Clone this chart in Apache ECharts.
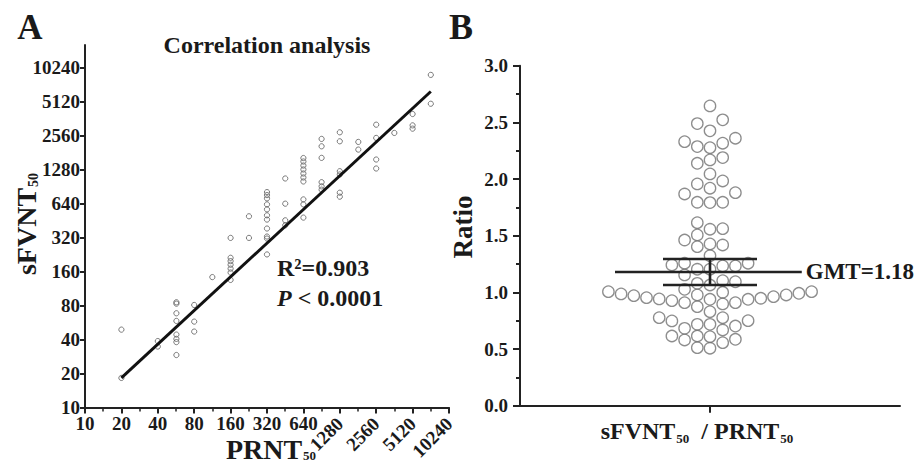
<!DOCTYPE html>
<html><head><meta charset="utf-8">
<script src="https://cdn.jsdelivr.net/npm/echarts@6/dist/echarts.min.js"></script>
<style>html,body{margin:0;padding:0;background:#fff}#c{width:919px;height:463px}</style>
</head><body><div id="c"></div>
<script>
// ---------- Panel A: correlation (titers) ----------
const prnt = [20,20,40,40,
  57,57,57,57,57,57,57,57,
  80,80,80,
  113,
  160,160,160,160,160,160,160,
  227,227,
  320,320,320,320,320,320,320,320,320,320,320,
  453,453,453,453,
  640,640,640,640,640,640,640,640,640,640,
  905,905,905,905,905,905,
  1280,1280,1280,1280,1280,1280,
  1821,1821,
  2560,2560,2560,2560,
  3616,
  5120,5120,5120,
  7240,7240];
const sfvnt = [49,18.3,38.8,34.7,
  85.6,83.2,68.4,58.5,44.3,40.6,38,29.2,
  81,57.7,47.1,
  143,
  212,198,184,170,157,135,318,
  318,494,
  809,761,712,630,569,504,462,385,327,314,227,
  1068,639,455,411,
  1620,1509,1391,1283,1182,1090,1005,697,630,481,
  2393,2058,1626,990,910,850,
  2737,2279,1239,1159,799,737,
  2250,1925,
  3198,2442,1572,1309,
  2703,
  3976,3154,2950,
  8829,4902];
const fitPrnt = [20, 7240];
const fitSfvnt = [18.3, 6290];
const titerTicks = ['10','20','40','80','160','320','640','1280','2560','5120','10240'];
const r2Text = 'R²=0.903';
const pText = '< 0.0001';

// ---------- Panel B: ratio sFVNT50 / PRNT50 ----------
const ratios = [2.645,2.522,2.489,2.425,2.360,2.330,2.316,2.286,2.277,2.189,2.169,2.139,2.045,
  1.983,1.957,1.919,1.880,1.868,1.795,1.795,1.792,1.615,1.562,1.557,1.507,
  1.462,1.427,1.418,1.403,1.324,
  1.257,1.257,1.242,1.233,1.233,1.204,1.204,1.154,1.103,1.094,1.080,1.065,1.027,
  1.006,1.006,1.001,0.992,0.986,0.977,0.977,0.971,0.962,0.953,0.948,0.942,0.939,0.939,0.927,
  0.909,0.909,0.898,0.874,0.830,
  0.777,0.777,0.750,0.748,0.718,0.718,0.703,0.683,0.668,
  0.615,0.615,0.609,0.586,0.580,0.556,
  0.512,0.507];
const gmt = 1.18;
const gmtCI = [1.065, 1.295];
const ratioTicks = ['0.0','0.5','1.0','1.5','2.0','2.5','3.0'];

// ---------- layout constants ----------
const SERIF = '"Liberation Serif","Times New Roman",serif';
const INK = '#1a1a1a';
const AXIS = '#222';
const GA = {left: 85, top: 45, width: 364, height: 364};
const GB = {left: 520, top: 65.7, width: 380, height: 340};
const Y_A_MAX = 10.665;   // log2 units above 10
const Y_B_MAX = 3;
const SWARM_D = 11.4;     // marker diameter (px)
const SWARM_GAP = 12.7;   // column spacing (px)

const lg = v => Math.log2(v / 10);

// Row-based beeswarm layout (Prism-like): values grouped bottom-up into rows one marker tall,
// points in a row take distinct columns from the centre outwards, avoiding overlaps.
function swarm(values) {
  const pxPerY = GB.height / Y_B_MAX;
  const unitsPerPxX = 2 / GB.width;
  const order = values.map((v, i) => i).sort((a, b) => values[a] - values[b]);
  const rowH = SWARM_D / pxPerY;
  const rows = [];
  let cur = null;
  for (const i of order) {
    if (!cur || values[i] - values[cur[0]] >= rowH) { cur = [i]; rows.push(cur); }
    else cur.push(i);
  }
  const cols = {};
  const out = new Array(values.length);
  for (const row of rows) {
    const used = new Set();
    for (const i of row) {
      const y = values[i] * pxPerY;
      for (let k = 0; k < 400; k++) {
        const c = k === 0 ? 0 : (k % 2 ? -Math.ceil(k / 2) : k / 2);
        if (used.has(c)) continue;
        const list = cols[c] || (cols[c] = []);
        if (list.every(yy => Math.abs(yy - y) >= SWARM_D)) {
          list.push(y); used.add(c);
          out[i] = [c * SWARM_GAP * unitsPerPxX, values[i]];
          break;
        }
      }
    }
  }
  return out;
}

const tickFont = {fontFamily: SERIF, fontWeight: 'bold', fontSize: 19, lineHeight: 18, color: INK};
const lineAx = {show: true, onZero: false, lineStyle: {color: AXIS, width: 2}};
const subRich = (big, small, pad) => ({
  a: {fontFamily: SERIF, fontWeight: 'bold', fontSize: big, lineHeight: big, verticalAlign: 'top', fill: INK},
  b: {fontFamily: SERIF, fontWeight: 'bold', fontSize: small, lineHeight: small, verticalAlign: 'top', padding: [pad, 0, 0, 1], fill: INK}
});

const chart = echarts.init(document.getElementById('c'), null, {renderer: 'svg'});
chart.setOption({
  backgroundColor: '#fff',
  animation: false,
  grid: [
    Object.assign({containLabel: false}, GA),
    Object.assign({containLabel: false}, GB)
  ],
  xAxis: [
    { type: 'value', gridIndex: 0, min: 0, max: titerTicks.length - 1, interval: 1, position: 'bottom',
      axisLine: lineAx, splitLine: {show: false},
      axisTick: {show: true, length: 6, lineStyle: {color: AXIS, width: 2}},
      minorTick: {show: true, splitNumber: 2, length: 4, lineStyle: {color: AXIS, width: 1.5}},
      axisLabel: Object.assign({margin: 7, formatter: v => v <= 6 ? titerTicks[v] : ''}, tickFont) },
    { type: 'value', gridIndex: 0, min: 0, max: titerTicks.length - 1, interval: 1, position: 'bottom',
      axisLine: {show: false, onZero: false}, axisTick: {show: false}, splitLine: {show: false},
      axisLabel: Object.assign({margin: 13, rotate: 45, formatter: v => v >= 7 ? titerTicks[v] : ''}, tickFont) },
    { type: 'category', gridIndex: 1, data: ['sFVNT50 / PRNT50'], boundaryGap: true,
      axisLine: lineAx, axisTick: {show: true, alignWithLabel: true, length: 7, lineStyle: {color: AXIS, width: 2}},
      axisLabel: {show: false}, splitLine: {show: false} },
    { type: 'value', gridIndex: 1, min: -1, max: 1, show: false, axisLine: {onZero: false} }
  ],
  yAxis: [
    { type: 'value', gridIndex: 0, min: 0, max: Y_A_MAX,
      axisLine: lineAx, splitLine: {show: false},
      axisTick: {show: true, length: 5, lineStyle: {color: AXIS, width: 2}, customValues: titerTicks.map((t, i) => i)},
      axisLabel: Object.assign({margin: 5, customValues: titerTicks.map((t, i) => i),
        formatter: v => titerTicks[Math.round(v)]}, tickFont) },
    { type: 'value', gridIndex: 1, min: 0, max: Y_B_MAX, interval: 0.5,
      axisLine: lineAx, splitLine: {show: false},
      axisTick: {show: true, length: 7, lineStyle: {color: AXIS, width: 2}},
      minorTick: {show: true, splitNumber: 2, length: 4, lineStyle: {color: AXIS, width: 2}},
      axisLabel: Object.assign({margin: 12, formatter: v => ratioTicks[Math.round(v * 2)]}, tickFont) }
  ],
  series: [
    { type: 'scatter', xAxisIndex: 0, yAxisIndex: 0, symbol: 'circle', symbolSize: 5.2,
      itemStyle: {color: 'rgba(0,0,0,0)', borderColor: '#5a5a5a', borderWidth: 1},
      data: prnt.map((x, i) => [lg(x), lg(sfvnt[i])]) },
    { type: 'line', xAxisIndex: 0, yAxisIndex: 0, showSymbol: false, z: 3,
      lineStyle: {color: '#111', width: 3},
      data: fitPrnt.map((x, i) => [lg(x), lg(fitSfvnt[i])]) },
    { type: 'scatter', xAxisIndex: 3, yAxisIndex: 1, symbol: 'circle', symbolSize: SWARM_D,
      itemStyle: {color: 'rgba(0,0,0,0)', borderColor: '#707070', borderWidth: 1.3},
      data: swarm(ratios) },
    { type: 'custom', xAxisIndex: 3, yAxisIndex: 1, z: 5,
      data: [[0, gmt, gmtCI[0], gmtCI[1]]],
      renderItem: (params, api) => {
        const c = api.coord([0, api.value(1)]);
        const lo = api.coord([0, api.value(2)]);
        const hi = api.coord([0, api.value(3)]);
        const L = api.coord([-0.5, api.value(1)]);
        const R = api.coord([0.483, api.value(1)]);
        const cap = 47;
        const st = {stroke: AXIS, lineWidth: 2.6};
        return {type: 'group', children: [
          {type: 'line', shape: {x1: L[0], y1: c[1], x2: R[0], y2: c[1]}, style: st},
          {type: 'line', shape: {x1: c[0], y1: lo[1], x2: c[0], y2: hi[1]}, style: st},
          {type: 'line', shape: {x1: c[0] - cap, y1: lo[1], x2: c[0] + cap, y2: lo[1]}, style: st},
          {type: 'line', shape: {x1: c[0] - cap, y1: hi[1], x2: c[0] + cap, y2: hi[1]}, style: st},
          {type: 'text', style: {text: 'GMT=' + gmt.toFixed(2), x: R[0] + 4, y: c[1],
            align: 'left', verticalAlign: 'middle', fill: INK, font: 'bold 23px ' + SERIF}}
        ]};
      } }
  ],
  graphic: [
    {type: 'text', style: {text: 'A', x: 30, y: 27, align: 'center', verticalAlign: 'middle', fill: INK, font: 'bold 35px ' + SERIF}},
    {type: 'text', style: {text: 'B', x: 461, y: 27, align: 'center', verticalAlign: 'middle', fill: INK, font: 'bold 36px ' + SERIF}},
    {type: 'text', style: {text: 'Correlation analysis', x: 267, y: 45, align: 'center', verticalAlign: 'middle', fill: INK, font: 'bold 24px ' + SERIF}},
    {type: 'text', style: {text: r2Text, x: 277, y: 268, align: 'left', verticalAlign: 'middle', fill: INK, font: 'bold 24px ' + SERIF}},
    {type: 'text', style: {text: '{i|P} {n|' + pText + '}', x: 277, y: 298, align: 'left', verticalAlign: 'middle',
      rich: {i: {fontFamily: SERIF, fontWeight: 'bold', fontStyle: 'italic', fontSize: 24, fill: INK},
             n: {fontFamily: SERIF, fontWeight: 'bold', fontSize: 24, fill: INK}},
      fill: INK, font: 'bold 24px ' + SERIF}},
    {type: 'text', rotation: Math.PI / 2, x: 26, y: 224,
      style: {text: '{a|sFVNT}{b|50}', x: 0, y: 0, align: 'center', verticalAlign: 'middle', rich: subRich(28, 14, 14)}},
    {type: 'text', x: 271, y: 449,
      style: {text: '{a|PRNT}{b|50}', x: 0, y: 0, align: 'center', verticalAlign: 'middle', rich: subRich(28, 13, 14)}},
    {type: 'text', rotation: Math.PI / 2, x: 463, y: 227,
      style: {text: 'Ratio', x: 0, y: 0, align: 'center', verticalAlign: 'middle', fill: INK, font: 'bold 27px ' + SERIF}},
    {type: 'text', x: 697, y: 431,
      style: {text: '{a|sFVNT}{b|50}{a|  / PRNT}{b|50}', x: 0, y: 0, align: 'center', verticalAlign: 'middle', rich: subRich(24, 13, 13)}}
  ]
});
</script></body></html>
